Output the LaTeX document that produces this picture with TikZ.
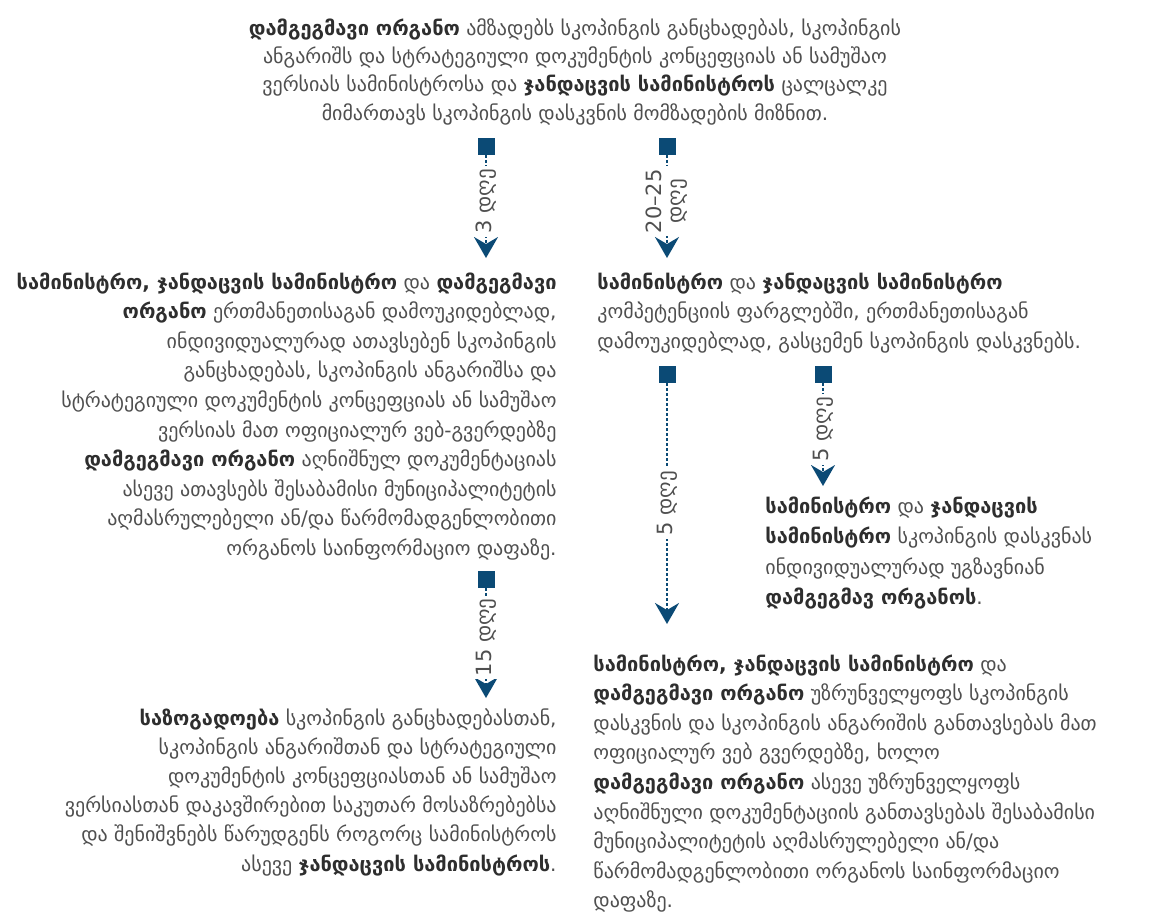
\documentclass[tikz,border=0pt]{standalone}
\usepackage{fontspec}
\setmainfont{DejaVu Sans}
\usetikzlibrary{arrows.meta}
\definecolor{flowblue}{HTML}{0B4A75}
\definecolor{txtgray}{HTML}{4F4F4F}
\definecolor{txtdark}{HTML}{2E2E2E}
\newcommand{\kw}[1]{{\bfseries\color{txtdark}#1}}
\tikzset{
  txt/.style={inner sep=0pt, text=txtgray, font=\fontsize{10}{14.8}\selectfont},
  sq/.style={fill=flowblue, minimum size=8.5pt, inner sep=0pt},
  flow/.style={flowblue, line width=1.1pt, dash pattern=on 1.4pt off 1.1pt,
    -{Stealth[length=10.5pt, width=12pt, inset=3.5pt]}},
  days/.style={rotate=90, fill=white, inner sep=1.5pt, text=txtgray,
    font=\fontsize{10.5}{10.5}\selectfont, align=center}
}
\begin{document}
\begin{tikzpicture}[x=0.5pt, y=-0.5pt]
  \useasboundingbox (0,0) rectangle (1150,918);
  % texts
  \node[txt, font=\fontsize{10}{14.2}\selectfont, align=center, anchor=north] (prep) at (575,18) {\kw{დამგეგმავი ორგანო} ამზადებს სკოპინგის განცხადებას, სკოპინგის\\ანგარიშს და სტრატეგიული დოკუმენტის კონცეფციას ან სამუშაო\\ვერსიას სამინისტროსა და \kw{ჯანდაცვის სამინისტროს} ცალცალკე\\მიმართავს სკოპინგის დასკვნის მომზადების მიზნით.};
  \node[txt, align=right, anchor=north east] (publish) at (557,272) {\kw{სამინისტრო, ჯანდაცვის სამინისტრო} და \kw{დამგეგმავი}\\\kw{ორგანო} ერთმანეთისაგან დამოუკიდებლად,\\ინდივიდუალურად ათავსებენ სკოპინგის\\განცხადებას, სკოპინგის ანგარიშსა და\\სტრატეგიული დოკუმენტის კონცეფციას ან სამუშაო\\ვერსიას მათ ოფიციალურ ვებ-გვერდებზე\\\kw{დამგეგმავი ორგანო} აღნიშნულ დოკუმენტაციას\\ასევე ათავსებს შესაბამისი მუნიციპალიტეტის\\აღმასრულებელი ან/და წარმომადგენლობითი\\ორგანოს საინფორმაციო დაფაზე.};
  \node[txt, align=left, anchor=north west] (conclude) at (597,272) {\kw{სამინისტრო} და \kw{ჯანდაცვის სამინისტრო}\\კომპეტენციის ფარგლებში, ერთმანეთისაგან\\დამოუკიდებლად, გასცემენ სკოპინგის დასკვნებს.};
  \node[txt, font=\fontsize{10}{15.3}\selectfont, align=left, anchor=north west] (send) at (765,496) {\kw{სამინისტრო} და \kw{ჯანდაცვის}\\\kw{სამინისტრო} სკოპინგის დასკვნას\\ინდივიდუალურად უგზავნიან\\\kw{დამგეგმავ ორგანოს}.};
  \node[txt, font=\fontsize{10}{14.6}\selectfont, align=right, anchor=north east] (public) at (557,708) {\kw{საზოგადოება} სკოპინგის განცხადებასთან,\\სკოპინგის ანგარიშთან და სტრატეგიული\\დოკუმენტის კონცეფციასთან ან სამუშაო\\ვერსიასთან დაკავშირებით საკუთარ მოსაზრებებსა\\და შენიშვნებს წარუდგენს როგორც სამინისტროს\\ასევე \kw{ჯანდაცვის სამინისტროს}.};
  \node[txt, align=left, anchor=north west] (ensure) at (593,654) {\kw{სამინისტრო, ჯანდაცვის სამინისტრო} და\\\kw{დამგეგმავი ორგანო} უზრუნველყოფს სკოპინგის\\დასკვნის და სკოპინგის ანგარიშის განთავსებას მათ\\ოფიციალურ ვებ გვერდებზე, ხოლო\\\kw{დამგეგმავი ორგანო} ასევე უზრუნველყოფს\\აღნიშნული დოკუმენტაციის განთავსებას შესაბამისი\\მუნიციპალიტეტის აღმასრულებელი ან/და\\წარმომადგენლობითი ორგანოს საინფორმაციო\\დაფაზე.};
  % arrows
  \node[sq] (s1) at (486,146) {};
  \node[sq] (s2) at (667,146) {};
  \node[sq] (s3) at (667,374) {};
  \node[sq] (s4) at (823,374) {};
  \node[sq] (s5) at (486,579) {};
  \coordinate (t1) at (486,258);
  \coordinate (t2) at (667,258);
  \coordinate (t3) at (667,624);
  \coordinate (t4) at (823,486);
  \coordinate (t5) at (486,698);
  \draw[flow] (s1) -- node[days, pos=0.45] {3 დღე} (t1);
  \draw[flow] (s2) -- node[days, pos=0.45] {20–25\\დღე} (t2);
  \draw[flow] (s3) -- node[days, pos=0.5] {5 დღე} (t3);
  \draw[flow] (s4) -- node[days, pos=0.45] {5 დღე} (t4);
  \draw[flow] (s5) -- node[days, pos=0.45] {15 დღე} (t5);
\end{tikzpicture}
\end{document}
